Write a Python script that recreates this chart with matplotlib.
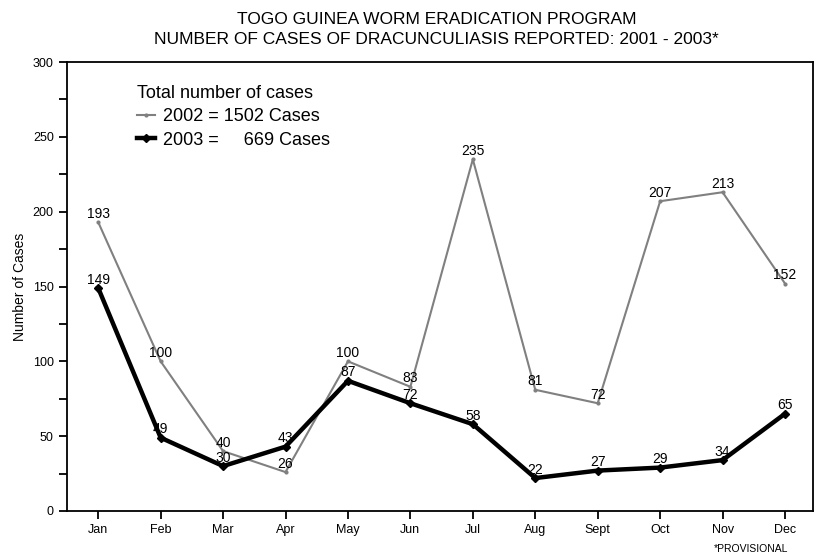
import matplotlib.pyplot as plt
import matplotlib as mpl

mpl.rcParams['font.family'] = ['Liberation Sans', 'DejaVu Sans']
mpl.rcParams['font.size'] = 10

meses = ["Jan", "Feb", "Mar", "Apr", "May", "Jun", "Jul", "Aug", "Sept", "Oct", "Nov", "Dec"]
casos_2002 = [193, 100, 40, 26, 100, 83, 235, 81, 72, 207, 213, 152]
casos_2003 = [149, 49, 30, 43, 87, 72, 58, 22, 27, 29, 34, 65]

fig = plt.figure(figsize=(8.19, 5.57), dpi=100)
ax = fig.add_axes([0.0818, 0.0826, 0.911, 0.806])

x = list(range(len(meses)))
ax.plot(x, casos_2002, color="#808080", lw=1.5, marker="o", ms=2,
        label="2002 = 1502 Cases")
ax.plot(x, casos_2003, color="black", lw=3.2, marker="D", ms=4,
        label="2003 =     669 Cases")

for i in x:
    ax.annotate(str(casos_2002[i]), (i, casos_2002[i]), textcoords="offset points",
                xytext=(0, 1), ha="center", va="bottom", fontsize=10)
    ax.annotate(str(casos_2003[i]), (i, casos_2003[i]), textcoords="offset points",
                xytext=(0, 1), ha="center", va="bottom", fontsize=10)

ax.set_xlim(-0.5, 11.45)
ax.set_ylim(0, 300)
ax.set_xticks(x)
ax.set_xticklabels(meses, fontsize=9)
ax.set_yticks(range(0, 301, 50))
ax.set_yticks(range(0, 301, 25), minor=True)
ax.tick_params(axis="y", labelsize=9, direction="out", width=1.3, length=6)
ax.tick_params(axis="y", which="minor", direction="out", width=1.3, length=6)
ax.tick_params(axis="x", labelsize=9, direction="out", width=1.3, length=6)
for s in ax.spines.values():
    s.set_linewidth(1.3)

ax.set_ylabel("Number of Cases", fontsize=10)
fig.suptitle("TOGO GUINEA WORM ERADICATION PROGRAM\nNUMBER OF CASES OF DRACUNCULIASIS REPORTED: 2001 - 2003*",
             fontsize=12.5, y=0.978, x=0.533, linespacing=1.4)

leg = ax.legend(title="Total number of cases", loc="upper left", bbox_to_anchor=(0.072, 0.985),
                frameon=False, fontsize=13, title_fontsize=13, handlelength=1.0,
                handletextpad=0.45, labelspacing=0.35)
leg._legend_box.align = "left"

fig.text(0.917, 0.005, "*PROVISIONAL", fontsize=7.5, ha="center", va="bottom")

fig.savefig("out.png", dpi=100)
